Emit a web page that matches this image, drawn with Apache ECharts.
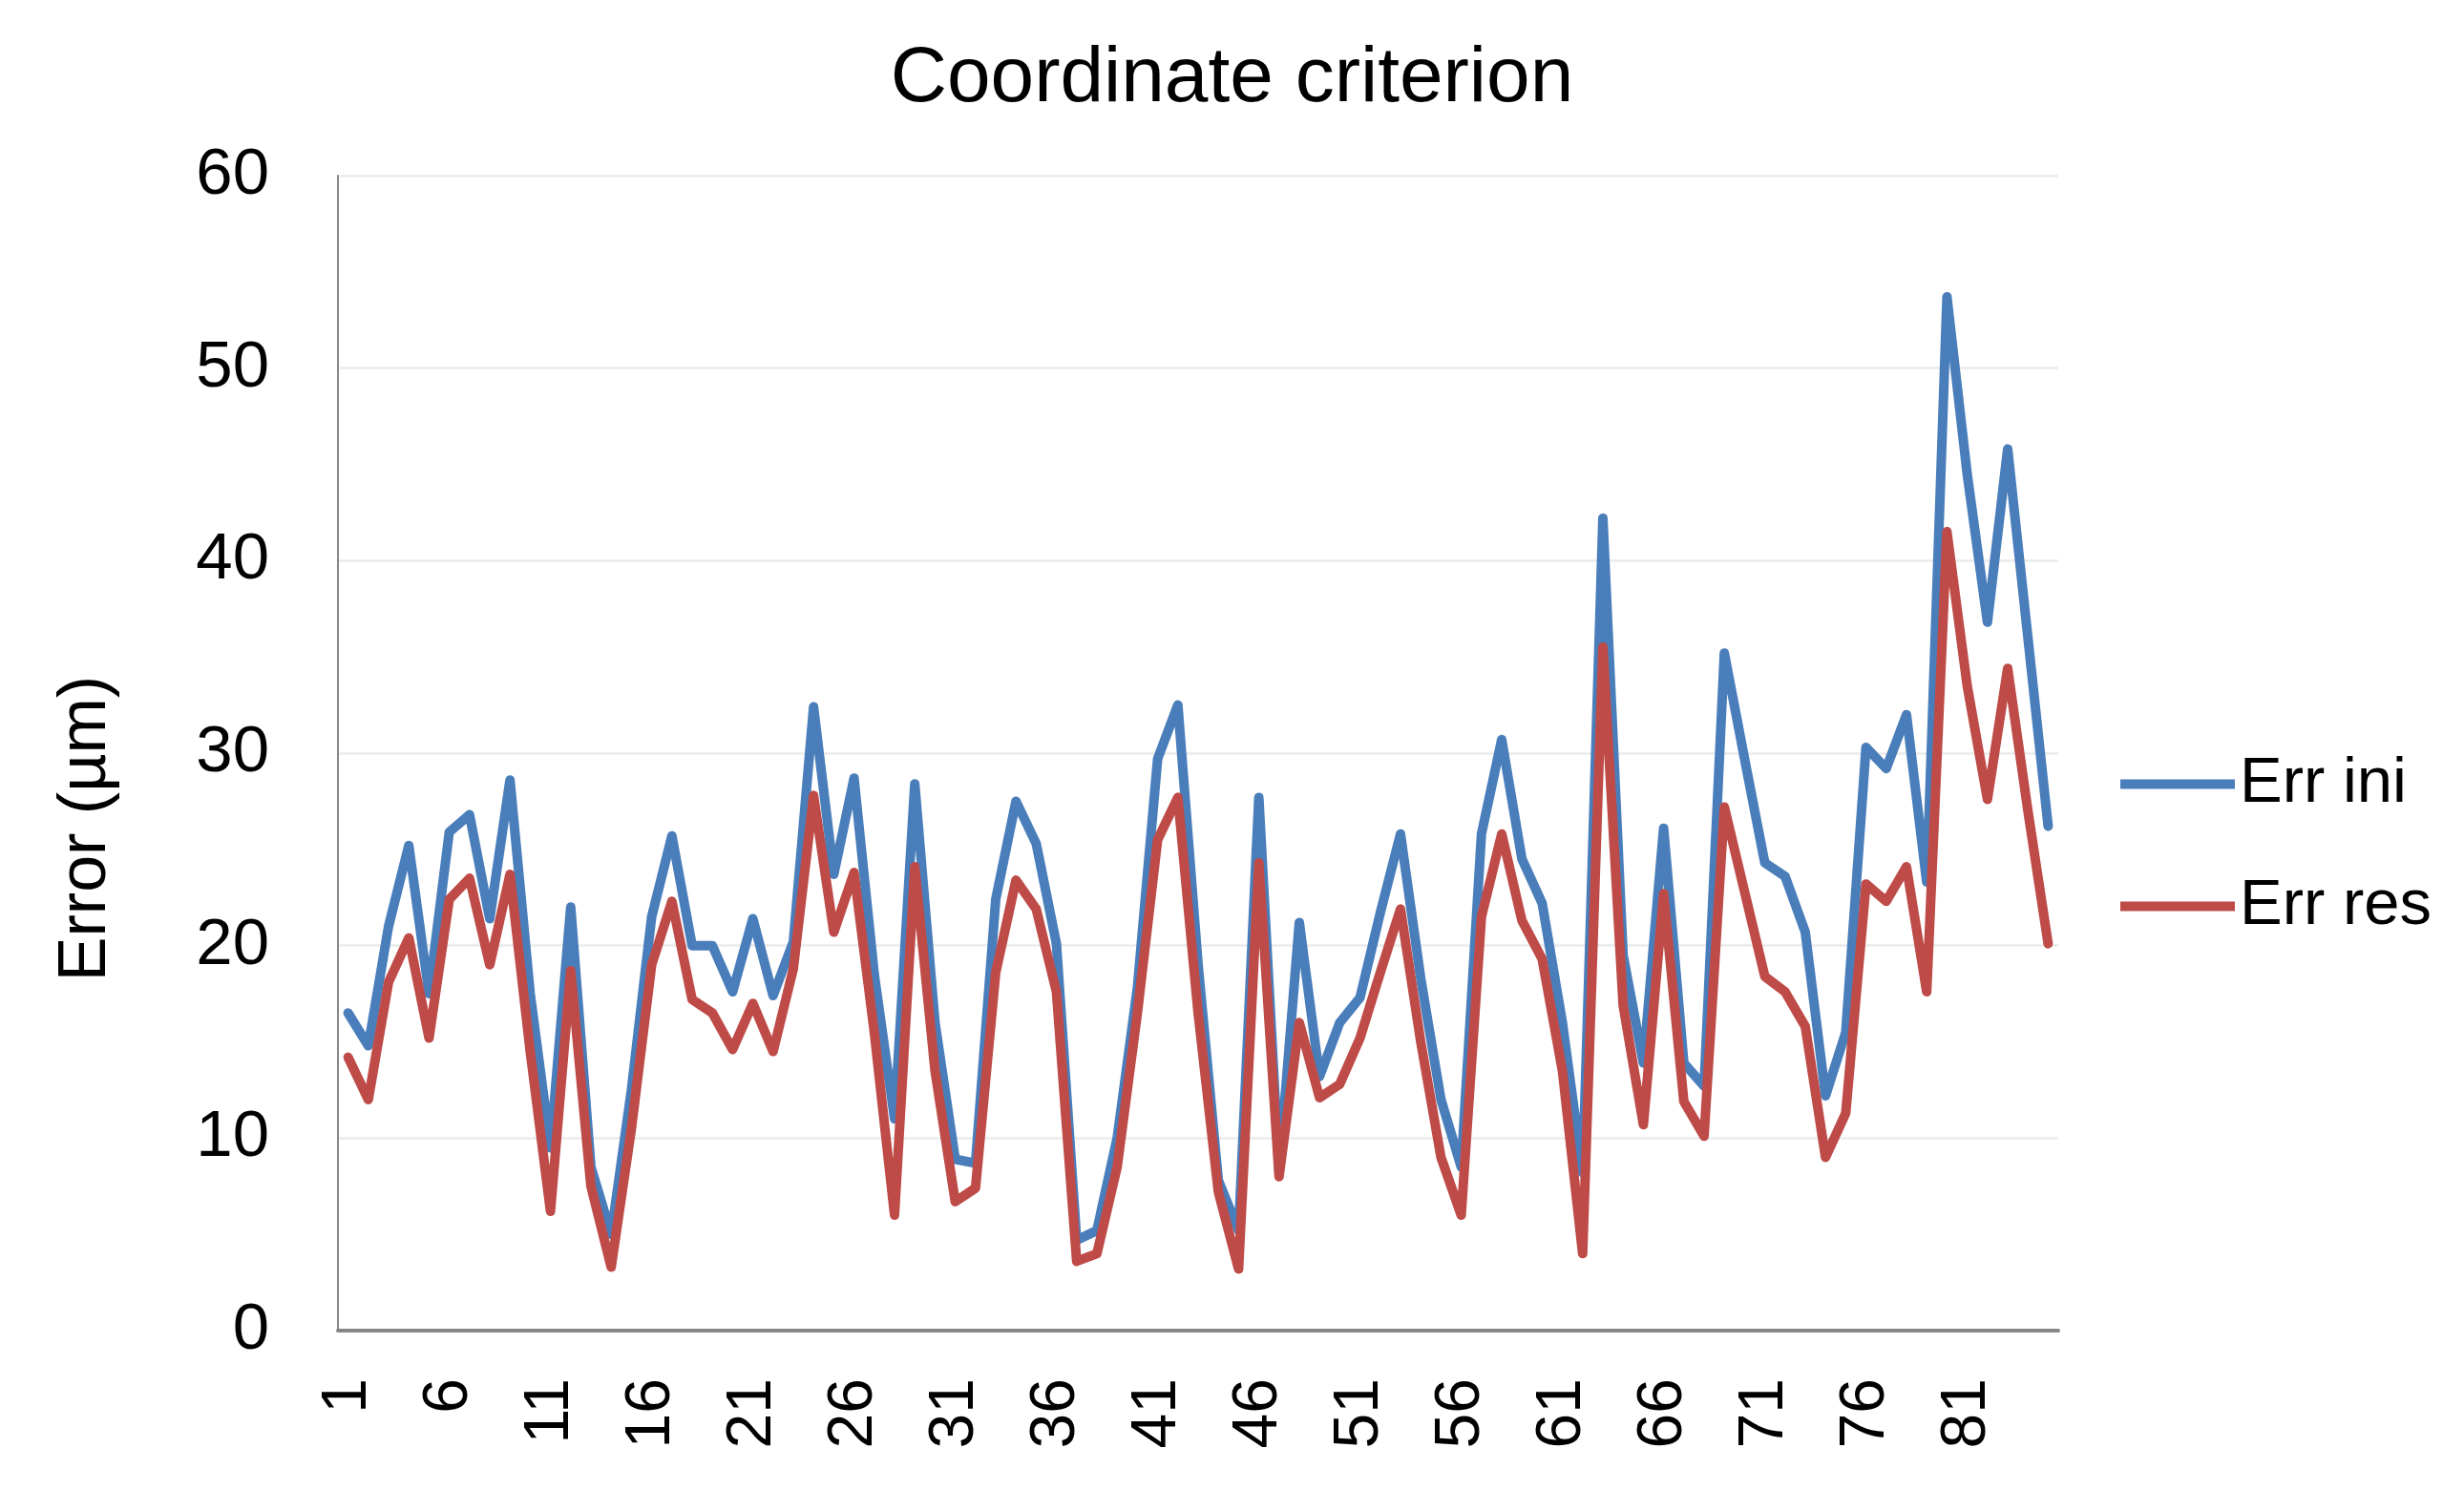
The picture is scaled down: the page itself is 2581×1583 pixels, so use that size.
<!DOCTYPE html>
<html>
<head>
<meta charset="utf-8">
<script src="https://cdn.jsdelivr.net/npm/echarts@6/dist/echarts.min.js"></script>
<style>
html,body{margin:0;padding:0;background:#fff;}
#chart{width:2581px;height:1583px;}
</style>
</head>
<body>
<div id="chart"></div>
<script>
var chartTitle = 'Coordinate criterion';
var yAxisName = 'Error (\u00b5m)';
var seriesNames = ['Err ini', 'Err res'];
var categories = [];
for (var i = 1; i <= 85; i++) { categories.push(String(i)); }

var errIni = [16.5, 14.8, 21.0, 25.2, 17.5, 25.9, 26.8, 21.4, 28.6, 17.5,
              9.5, 22.0, 8.5, 5.0, 12.5, 21.5, 25.7, 20.0, 20.0, 17.6,
              21.4, 17.4, 20.2, 32.4, 23.7, 28.7, 18.5, 11.0, 28.4, 16.0,
              8.9, 8.7, 22.4, 27.5, 25.3, 20.1, 4.7, 5.2, 10.0, 17.8,
              29.7, 32.5, 19.0, 7.8, 5.2, 27.7, 8.3, 21.2, 13.2, 16.0,
              17.3, 21.7, 25.8, 18.3, 12.0, 8.5, 25.8, 30.7, 24.5, 22.2,
              16.0, 8.2, 42.2, 19.5, 13.9, 26.1, 13.9, 12.7, 35.2, 29.7,
              24.3, 23.6, 20.7, 12.2, 15.5, 30.3, 29.2, 32.0, 23.3, 53.7,
              44.5, 36.8, 45.8, 36.0, 26.2];

var errRes = [14.2, 12.0, 18.1, 20.4, 15.2, 22.4, 23.5, 19.0, 23.7, 14.5,
              6.2, 18.7, 7.5, 3.3, 10.5, 19.0, 22.3, 17.2, 16.5, 14.6,
              17.0, 14.5, 18.8, 27.8, 20.7, 23.8, 15.5, 6.0, 24.1, 13.5,
              6.7, 7.4, 18.6, 23.4, 21.9, 17.6, 3.6, 4.0, 8.5, 16.5,
              25.5, 27.7, 16.5, 7.2, 3.2, 24.3, 8.0, 16.0, 12.1, 12.8,
              15.2, 18.6, 21.9, 15.0, 9.0, 6.0, 21.5, 25.8, 21.3, 19.3,
              13.5, 4.0, 35.5, 16.9, 10.7, 22.7, 11.9, 10.1, 27.2, 22.8,
              18.4, 17.6, 15.8, 9.0, 11.3, 23.2, 22.3, 24.1, 17.6, 41.5,
              33.5, 27.6, 34.4, 27.0, 20.1];

var FONT = '"Liberation Sans", Arial, sans-serif';
var chart = echarts.init(document.getElementById('chart'), null, {renderer: 'canvas'});
chart.setOption({
  animation: false,
  backgroundColor: '#ffffff',
  color: ['#4a7ebb', '#be4b48'],
  title: {
    text: chartTitle,
    left: 'center',
    top: 37,
    textStyle: {fontFamily: FONT, fontSize: 82, fontWeight: 'normal', color: '#000', lineHeight: 82}
  },
  legend: {
    orient: 'vertical',
    left: 2216,
    top: 783,
    itemWidth: 120,
    itemHeight: 10,
    itemGap: 61,
    icon: 'rect',
    data: seriesNames,
    textStyle: {fontFamily: FONT, fontSize: 67, color: '#000', lineHeight: 67, padding: [0, 0, 0, 0]}
  },
  grid: {left: 354, right: 425, top: 184, bottom: 189, containLabel: false},
  xAxis: {
    type: 'category',
    data: categories,
    boundaryGap: true,
    axisLine: {show: true, lineStyle: {color: '#878787', width: 4}},
    axisTick: {show: false},
    splitLine: {show: false},
    axisLabel: {
      interval: 4,
      rotate: 90,
      margin: 50,
      fontFamily: FONT,
      fontSize: 66,
      color: '#000'
    }
  },
  yAxis: {
    type: 'value',
    min: 0,
    max: 60,
    interval: 10,
    name: yAxisName,
    nameLocation: 'middle',
    nameRotate: 90,
    nameGap: 263,
    nameTextStyle: {fontFamily: FONT, fontSize: 70, color: '#000', align: 'center', verticalAlign: 'middle', padding: [0, 158, 0, 0]},
    axisLine: {show: true, lineStyle: {color: '#878787', width: 2}},
    axisTick: {show: false},
    splitLine: {show: true, lineStyle: {color: '#ebebeb', width: 2.5}},
    axisLabel: {margin: 72, fontFamily: FONT, fontSize: 69, color: '#000'}
  },
  series: [
    {
      name: seriesNames[0],
      type: 'line',
      data: errIni,
      symbol: 'none',
      lineStyle: {width: 10, color: '#4a7ebb', cap: 'round', join: 'round'}
    },
    {
      name: seriesNames[1],
      type: 'line',
      data: errRes,
      symbol: 'none',
      lineStyle: {width: 10, color: '#be4b48', cap: 'round', join: 'round'}
    }
  ]
});
</script>
</body>
</html>
